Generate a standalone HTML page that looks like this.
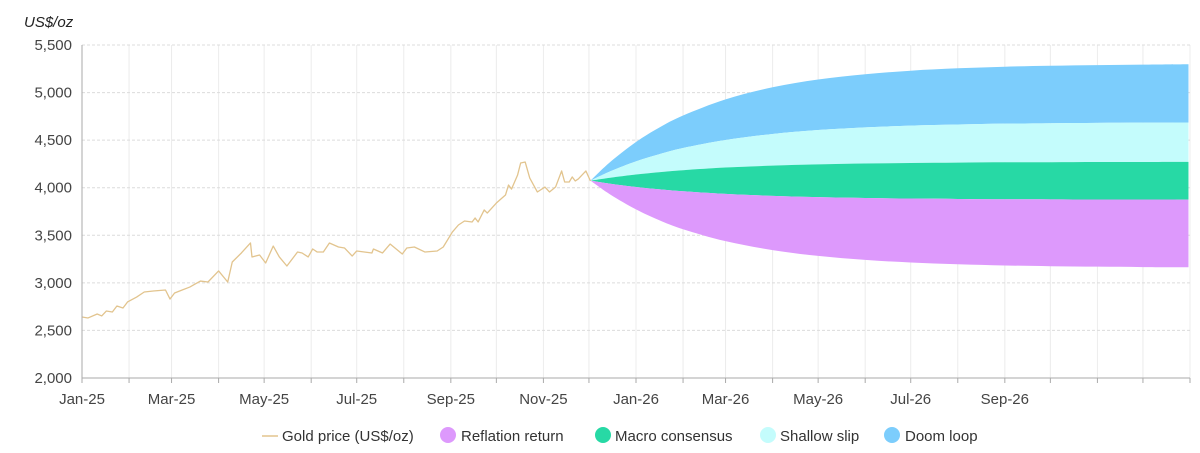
<!DOCTYPE html>
<html><head><meta charset="utf-8">
<style>
html,body{margin:0;padding:0;background:#fff;}
svg{display:block;font-family:"Liberation Sans","DejaVu Sans",sans-serif;}
</style></head>
<body>
<svg id="chart" width="1200" height="453" viewBox="0 0 1200 453" xmlns="http://www.w3.org/2000/svg">
  <g id="grid"></g>
  <g id="fan"></g>
  <g id="line"></g>
  <g id="axes"></g>
  <text x="24" y="27" font-size="15" font-style="italic" fill="#222">US$/oz</text>
  <g id="legend" font-size="15" fill="#333">
    <g>
      <line x1="262" y1="436" x2="278" y2="436" stroke="#e2c48e" stroke-width="1.5"/>
      <text x="282" y="441">Gold price (US$/oz)</text>
    </g>
    <g>
      <circle cx="448" cy="435" r="8" fill="#dd99fc"/>
      <text x="461" y="441">Reflation return</text>
    </g>
    <g>
      <circle cx="603" cy="435" r="8" fill="#27d9a5"/>
      <text x="615" y="441">Macro consensus</text>
    </g>
    <g>
      <circle cx="768" cy="435" r="8" fill="#c4fcfc"/>
      <text x="780" y="441">Shallow slip</text>
    </g>
    <g>
      <circle cx="892" cy="435" r="8" fill="#7ccdfc"/>
      <text x="905" y="441">Doom loop</text>
    </g>
  </g>
</svg>
<script>
// ---- data ----
const priceDays = [0,4,10,13,16,20,23,27,30,36,41,47,55,58,61,66,71,78,83,90,96,99,105,111,112,117,121,126,130,135,142,145,149,152,155,159,163,169,173,178,181,191,192,198,203,211,214,219,226,234,238,244,248,252,257,259,261,265,267,273,279,281,283,287,289,292,295,300,305,308,312,316,318,321,323,325,327,332,335];
const priceValues = [2641,2631,2673,2652,2704,2694,2757,2736,2799,2851,2904,2914,2925,2830,2893,2925,2956,3019,3009,3125,3009,3219,3314,3419,3272,3293,3209,3387,3272,3177,3324,3314,3272,3356,3324,3324,3419,3377,3366,3282,3335,3314,3356,3314,3408,3303,3366,3377,3324,3335,3377,3534,3608,3650,3640,3682,3640,3766,3734,3839,3923,4028,3986,4134,4260,4270,4102,3955,4007,3955,4007,4176,4060,4060,4113,4071,4092,4176,4071];
const fanDays = [335,348,365,380,396,424,455,485,516,546,577,608,638,669,699,729];
const doomTop = [4074,4270,4480,4629,4759,4929,5056,5138,5193,5230,5255,5272,5282,5289,5294,5298];
const doomBottom = [4074,4172,4277,4351,4417,4501,4565,4606,4634,4652,4664,4673,4678,4682,4684,4686];
const macroTop = [4074,4105,4139,4163,4184,4212,4232,4245,4254,4260,4264,4267,4268,4270,4270,4271];
const macroBottom = [4074,4042,4008,3984,3963,3935,3914,3901,3892,3886,3882,3879,3878,3876,3876,3875];
const reflationBottom = [4074,3929,3772,3661,3564,3438,3344,3283,3241,3214,3196,3183,3175,3170,3166,3164];
const yTicks = [2000,2500,3000,3500,4000,4500,5000,5500];
const yTickLabels = ["2,000","2,500","3,000","3,500","4,000","4,500","5,000","5,500"];
const monthStarts = [0,31,59,90,120,151,181,212,243,273,304,334,365,396,424,455,485,516,546,577,608,638,669,699,730];
const xLabels = ["Jan-25","Mar-25","May-25","Jul-25","Sep-25","Nov-25","Jan-26","Mar-26","May-26","Jul-26","Sep-26"];
const xLabelDays = [0,59,120,181,243,304,365,424,485,546,608];

// ---- scales ----
const L=82,R=1190,T=45,B=378;
const x = d => L + d*(R-L)/730;
const y = v => B - (v-2000)*(B-T)/3500;
const NS="http://www.w3.org/2000/svg";
function mk(tag,attrs,parent){const e=document.createElementNS(NS,tag);for(const k in attrs)e.setAttribute(k,attrs[k]);parent.appendChild(e);return e;}

const grid=document.getElementById('grid');
monthStarts.forEach((d,i)=>{ if(i===0) return;
  const g=mk('line',{x1:x(d),x2:x(d),y1:T,y2:B,stroke:'#ececec','stroke-width':1},grid);
  
  
});
yTicks.forEach((v,i)=>{
  if(i>0){const g=mk('line',{x1:L,x2:R,y1:y(v),y2:y(v),stroke:'#dcdcdc','stroke-width':1,'stroke-dasharray':'3,2'},grid);
  
  }
  const t=mk('text',{x:72,y:y(v)+5,'text-anchor':'end','font-size':15,fill:'#444'},grid);
  t.textContent=yTickLabels[i];
  
  
});

// smooth path helper (catmull-rom)
function smooth(pts){let d='';for(let i=0;i<pts.length-1;i++){const p0=pts[Math.max(0,i-1)],p1=pts[i],p2=pts[i+1],p3=pts[Math.min(pts.length-1,i+2)];
 const c1=[p1[0]+(p2[0]-p0[0])/6,p1[1]+(p2[1]-p0[1])/6],c2=[p2[0]-(p3[0]-p1[0])/6,p2[1]-(p3[1]-p1[1])/6];
 d+=` C${c1[0]},${c1[1]} ${c2[0]},${c2[1]} ${p2[0]},${p2[1]}`;}return d;}
function band(top,bot,color,name){
  const tp=fanDays.map((d,i)=>[x(d),y(top[i])]);
  const bp=fanDays.map((d,i)=>[x(d),y(bot[i])]).reverse();
  const d=`M${tp[0][0]},${tp[0][1]}`+smooth(tp)+` L${bp[0][0]},${bp[0][1]}`+smooth(bp)+'Z';
  const p=mk('path',{d:d,fill:color},document.getElementById('fan'));
  
  
}
band(doomTop,doomBottom,'#7ccdfc','doom-loop-band');
band(doomBottom,macroTop,'#c4fcfc','shallow-slip-band');
band(macroTop,macroBottom,'#27d9a5','macro-consensus-band');
band(macroBottom,reflationBottom,'#dd99fc','reflation-return-band');

const lp=mk('polyline',{points:priceDays.map((d,i)=>x(d)+','+y(priceValues[i])).join(' '),fill:'none',stroke:'#e2c48e','stroke-width':1.3,'stroke-linejoin':'round'},document.getElementById('line'));



const axes=document.getElementById('axes');
mk('line',{x1:L,x2:L,y1:T,y2:B,stroke:'#aaa','stroke-width':1},axes);
mk('line',{x1:L,x2:R,y1:B,y2:B,stroke:'#aaa','stroke-width':1},axes);
monthStarts.forEach(d=>{
  const tk=mk('line',{x1:x(d),x2:x(d),y1:B,y2:B+5,stroke:'#aaa','stroke-width':1},axes);
  
  
});
xLabels.forEach((s,i)=>{
  const t=mk('text',{x:x(xLabelDays[i]),y:404,'text-anchor':'middle','font-size':15,fill:'#444'},axes);
  t.textContent=s;
  
  
});
</script>
</body></html>
